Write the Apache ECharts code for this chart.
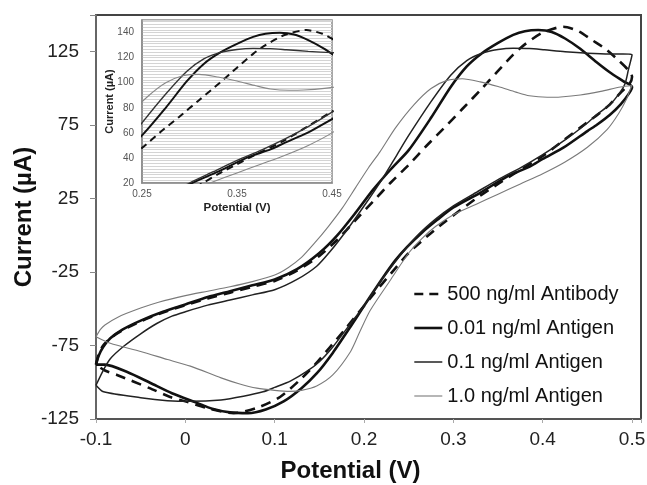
<!DOCTYPE html>
<html><head><meta charset="utf-8">
<script src="https://cdn.jsdelivr.net/npm/echarts@6/dist/echarts.min.js"></script>
<style>html,body{margin:0;padding:0;background:#fff}#c{width:647px;height:485px}</style>
</head><body><div id="c"></div>
<script>
// Series names (legend)
const seriesNames = ['500 ng/ml Antibody', '0.01 ng/ml Antigen', '0.1 ng/ml Antigen', '1.0 ng/ml Antigen'];
// Axis ticks
const mainXTicks = [-0.1, 0, 0.1, 0.2, 0.3, 0.4, 0.5];
const mainYTicks = [-125, -75, -25, 25, 75, 125];
const insetXTicks = [0.25, 0.35, 0.45];
const insetYTicks = [20, 40, 60, 80, 100, 120, 140];

// [Potential (V), Current (uA)] loops
const antibody500 = [[-0.1,-88],[-0.097,-81],[-0.092,-75],[-0.084,-70],[-0.07,-64.5],[-0.05,-58.5],[-0.025,-52.5],[0,-47.5],[0.025,-43],[0.05,-39],[0.075,-35],[0.1,-31],[0.125,-24],[0.15,-14],[0.17,-3],[0.19,10],[0.21,23],[0.23,36],[0.25,48],[0.27,61],[0.289,72.7],[0.31,86],[0.332,100],[0.35,112],[0.367,123],[0.38,130],[0.4,138],[0.423,142],[0.44,139],[0.455,133],[0.47,127],[0.485,119],[0.495,113],[0.5,108],
  [0.497,103],[0.487,97],[0.475,89],[0.461,82],[0.45,77],[0.424,65],[0.4,54],[0.368,42],[0.35,35],[0.33,27],[0.314,20],[0.29,9],[0.27,-1],[0.25,-12],[0.23,-26],[0.212,-39],[0.196,-51],[0.18,-63],[0.162,-76],[0.145,-88],[0.129,-98],[0.106,-110],[0.08,-117.5],[0.054,-121],[0.024,-117.5],[0,-113],[-0.017,-110],[-0.04,-104],[-0.0765,-95],[-0.09,-92],[-0.1,-88]];
const antigen001 = [[-0.1,-88],[-0.097,-82],[-0.092,-76],[-0.084,-70],[-0.07,-64],[-0.05,-58],[-0.025,-52],[0,-47],[0.025,-42],[0.05,-38],[0.075,-34],[0.1,-30],[0.125,-23],[0.15,-12],[0.17,0],[0.19,15],[0.21,31],[0.23,45],[0.25,58],[0.275,80],[0.297,101],[0.315,115],[0.332,124],[0.35,131],[0.367,136.5],[0.38,139],[0.395,139.8],[0.41,138.5],[0.425,134],[0.442,127],[0.46,118],[0.475,111],[0.49,105],[0.5,101],
  [0.497,97],[0.487,89],[0.475,82],[0.461,75.5],[0.45,71],[0.424,60],[0.4,52],[0.386,47],[0.36,40],[0.33,29],[0.3,19],[0.282,10.6],[0.265,2],[0.248,-8],[0.235,-17],[0.222,-28],[0.2,-48],[0.185,-62],[0.165,-80],[0.147,-94],[0.13,-104],[0.11,-113],[0.09,-118.5],[0.07,-121],[0.05,-120.5],[0.03,-118],[0.013,-114],[-0.015,-107.5],[-0.039,-100.5],[-0.065,-93],[-0.09,-88],[-0.1,-88]];
const antigen01 = [[-0.1,-102],[-0.092,-92],[-0.084,-84],[-0.069,-75.5],[-0.05,-67],[-0.032,-60],[-0.015,-55],[0,-52],[0.025,-47.5],[0.05,-44],[0.075,-40.5],[0.1,-37],[0.125,-30],[0.147,-21],[0.162,-11],[0.18,3],[0.2,20],[0.22,38],[0.237,55],[0.25,68],[0.275,91],[0.297,109],[0.315,119],[0.332,124],[0.35,126.5],[0.367,127.4],[0.385,127.2],[0.402,126.3],[0.425,125],[0.45,124],[0.475,123.5],[0.49,123.5],[0.5,123],
  [0.496,113],[0.492,103],[0.485,96],[0.475,89],[0.46,82],[0.45,76.5],[0.425,65],[0.4,55],[0.375,46],[0.35,38],[0.325,29],[0.3,20],[0.28,11],[0.26,0],[0.24,-14],[0.22,-30],[0.2,-48],[0.185,-60],[0.165,-76],[0.15,-86],[0.135,-93],[0.118,-99],[0.1,-103.5],[0.087,-106.5],[0.065,-109.5],[0.04,-112],[0.0056,-113],[-0.02,-112.5],[-0.05,-110.5],[-0.0915,-106.5],[-0.1,-102]];
const antigen10 = [[-0.1,-69],[-0.095,-64],[-0.09,-61],[-0.075,-55.5],[-0.05,-49.5],[-0.03,-45.5],[0,-41],[0.025,-38],[0.05,-35],[0.075,-31.5],[0.1,-27],[0.115,-22],[0.13,-15],[0.145,-5],[0.16,6],[0.175,18],[0.19,32],[0.205,46],[0.218,57],[0.235,73],[0.256,89],[0.275,100],[0.293,105.5],[0.31,106.6],[0.33,104.5],[0.35,101.3],[0.37,97.5],[0.385,95],[0.405,94],[0.42,94.2],[0.442,95.5],[0.465,98],[0.487,101],[0.5,102],
  [0.497,98],[0.494,93],[0.485,83],[0.472,72],[0.45,60],[0.425,50],[0.4,42],[0.375,35],[0.35,28],[0.325,21],[0.3,14],[0.28,6],[0.265,-2],[0.25,-12],[0.23,-30],[0.207,-51],[0.195,-66],[0.185,-79],[0.165,-95],[0.147,-102.5],[0.13,-105.5],[0.117,-106.2],[0.1,-105.5],[0.08,-104],[0.06,-101],[0.04,-97],[0.0056,-89],[-0.02,-84.5],[-0.05,-79],[-0.084,-73.5],[-0.1,-69]];

const datasets = [antibody500, antigen001, antigen01, antigen10];
const FONT = "'Liberation Sans', Arial, sans-serif";

const mainStyles = [
  {color:'#111', width:2.6, type:[10,7]},
  {color:'#111', width:2.6, type:'solid'},
  {color:'#222', width:1.5, type:'solid'},
  {color:'#7a7a7a', width:1.1, type:'solid'}
];
const insetStyles = [
  {color:'#111', width:2, type:[7,5]},
  {color:'#111', width:2, type:'solid'},
  {color:'#333', width:1.4, type:'solid'},
  {color:'#888', width:1.1, type:'solid'}
];

const series = [];
datasets.forEach((d, i) => {
  series.push({name: seriesNames[i], type:'line', xAxisIndex:0, yAxisIndex:0, data:d, symbol:'none', smooth:0.25, clip:true, lineStyle:mainStyles[i], itemStyle:{color:mainStyles[i].color}, z:3, animation:false});
});
datasets.forEach((d, i) => {
  series.push({name: seriesNames[i], type:'line', xAxisIndex:1, yAxisIndex:1, data:d, symbol:'none', smooth:0.25, clip:true, lineStyle:insetStyles[i], itemStyle:{color:insetStyles[i].color}, z:5, animation:false});
});

const legendData = seriesNames.map((n, i) => ({
  name:n,
  lineStyle:{color:mainStyles[i].color, width:mainStyles[i].width, type: i===0 ? [9,6] : 'solid'},
  itemStyle:{opacity:0}
}));

const chart = echarts.init(document.getElementById('c'), null, {renderer:'canvas'});
chart.setOption({
  animation:false,
  backgroundColor:'#fff',
  textStyle:{fontFamily:FONT},
  grid:[
    {left:96, right:6, top:15, bottom:66, show:true, borderColor:'#444', borderWidth:2, outerBoundsMode:'none', containLabel:false},
    {left:142, right:315, top:20, bottom:302, show:true, borderColor:'#8a8a8a', borderWidth:1.5, outerBoundsMode:'none', containLabel:false}
  ],
  xAxis:[
    {type:'value', gridIndex:0, min:-0.1, max:0.51, interval:0.1,
     name:'Potential (V)', nameLocation:'middle', nameGap:40, nameMoveOverlap:false,
     nameTextStyle:{fontFamily:FONT, fontSize:24, fontWeight:'bold', color:'#111', padding:[0,36,0,0]},
     axisLine:{show:true, onZero:false, lineStyle:{color:'#555', width:2}},
     axisTick:{show:true, length:4, lineStyle:{color:'#aaa'}},
     splitLine:{show:false},
     axisLabel:{fontFamily:FONT, fontSize:19, color:'#222', margin:11,
       formatter:v=>{const r=Math.round(v*10)/10; if(Math.abs(v-r)>1e-6||r>0.5) return ''; return r===0?'0':String(r);}}},
    {type:'value', gridIndex:1, min:0.25, max:0.45, interval:0.1,
     name:'Potential (V)', nameLocation:'middle', nameGap:19, nameMoveOverlap:false,
     nameTextStyle:{fontFamily:FONT, fontSize:11.5, fontWeight:'bold', color:'#222'},
     axisLine:{show:true, onZero:false, lineStyle:{color:'#8a8a8a', width:1.5}},
     axisTick:{show:false}, splitLine:{show:false},
     axisLabel:{fontFamily:FONT, fontSize:10, color:'#555', margin:6, formatter:v=>v.toFixed(2)}}
  ],
  yAxis:[
    {type:'value', gridIndex:0, min:-125, max:150, interval:50,
     name:'Current (\u00b5A)', nameLocation:'middle', nameGap:60, nameRotate:90, nameMoveOverlap:false,
     nameTextStyle:{fontFamily:FONT, fontSize:24, fontWeight:'bold', color:'#111'},
     axisLine:{show:true, onZero:false, lineStyle:{color:'#666', width:2}},
     axisTick:{show:true, length:6, lineStyle:{color:'#888'}},
     splitLine:{show:false},
     axisLabel:{fontFamily:FONT, fontSize:19, color:'#222', margin:17, formatter:v=>(v>125?'':String(v))}},
    {type:'value', gridIndex:1, min:20, max:150, interval:20,
     name:'Current (\u00b5A)', nameLocation:'middle', nameGap:27, nameRotate:90, nameMoveOverlap:false,
     nameTextStyle:{fontFamily:FONT, fontSize:11, fontWeight:'bold', color:'#222'},
     axisLine:{show:true, onZero:false, lineStyle:{color:'#8a8a8a', width:1.5}},
     axisTick:{show:false},
     minorTick:{show:false, splitNumber:9},
     splitLine:{show:true, lineStyle:{color:'#d4d4d4', width:1}},
     minorSplitLine:{show:true, lineStyle:{color:'#d4d4d4', width:1}},
     axisLabel:{fontFamily:FONT, fontSize:10, color:'#555', margin:8, formatter:v=>(v>140?'':String(v))}}
  ],
  legend:{
    data:legendData, orient:'vertical', left:408, top:279, itemWidth:28, itemHeight:12, itemGap:14,
    textStyle:{fontFamily:FONT, fontSize:20, color:'#111'}
  },
  series:series
});
</script>
</body></html>
